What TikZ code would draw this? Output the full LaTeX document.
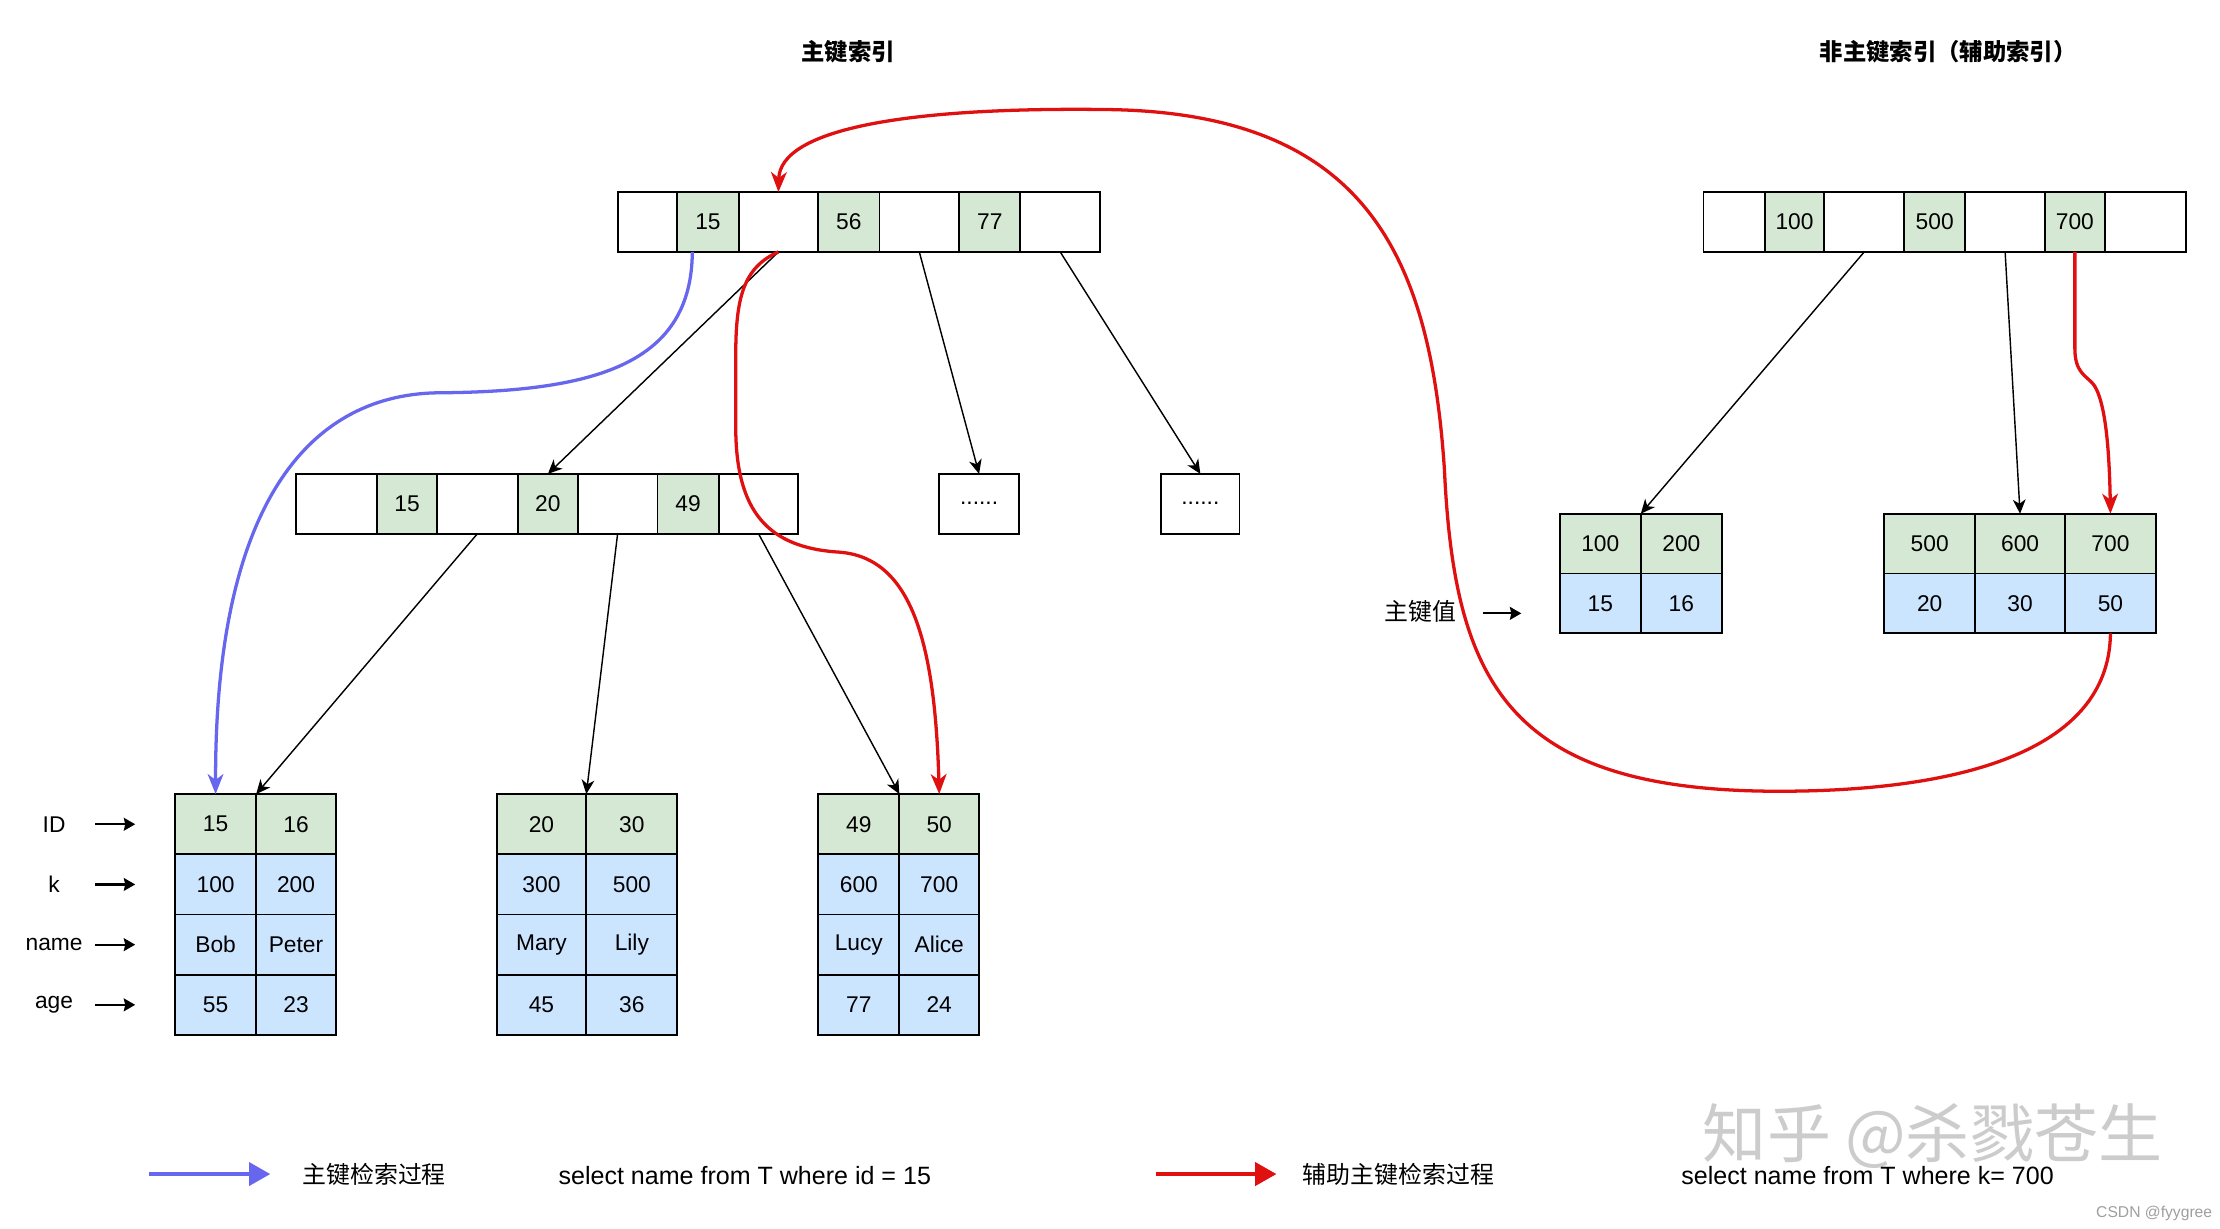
\documentclass[tikz,border=0pt]{standalone}
\usepackage{fontspec}
\setmainfont{Liberation Sans}
\newfontfamily\cjk{Noto Sans CJK SC}
\usetikzlibrary{arrows.meta,calc}
\definecolor{kgreen}{HTML}{D5E8D4}
\definecolor{kblue}{HTML}{CCE5FF}
\definecolor{rred}{HTML}{E01010}
\definecolor{bblue}{HTML}{6666EE}
\begin{document}
\begin{tikzpicture}[x=1pt,y=-1pt,
  cell/.style={draw, line width=1.3pt, minimum height=42pt, inner sep=0pt, outer sep=0pt, anchor=north west, font=\fontsize{16}{19}\selectfont},
  lcell/.style={cell, minimum height=42.3pt},
  gc/.style={fill=kgreen}, wc/.style={fill=white}, bc/.style={fill=kblue},
  tree/.style={line width=1pt, -{Stealth[length=10pt,width=9pt,inset=3pt]}},
  redarrow/.style={rred, line width=2.3pt, -{Stealth[length=14pt,width=11pt,inset=4pt]}},
  bluearrow/.style={bblue, line width=2.3pt, -{Stealth[length=14pt,width=11pt,inset=4pt]}},
  lab/.style={font=\fontsize{16}{19}\selectfont},
  labarrow/.style={line width=1.5pt, -{Stealth[length=8pt,width=9pt,inset=1pt]}},
  legend/.style={line width=3.2pt, -{Triangle[length=15pt,width=16pt]}},
  title/.style={font=\cjk\bfseries\fontsize{16.4}{20}\selectfont},
  cjktext/.style={font=\cjk\fontsize{16.8}{20}\selectfont},
  sql/.style={font=\fontsize{17.6}{21}\selectfont, anchor=west}
]
\useasboundingbox[fill=white] (0,0) rectangle (1560,863);

% watermark
\node[text=gray!40, font=\cjk\fontsize{45}{50}\selectfont] (wm) at (1358,798) {知乎 @杀戮苍生};
\node[anchor=east, text=gray!75, font=\fontsize{11}{13}\selectfont] (csdn) at (1558,853) {CSDN @fyygree};

% titles
\node[title] (t1) at (596,36) {主键索引};
\node[title] (t2) at (1369,36) {非主键索引（辅助索引）};

% primary index root
\node[cell,wc,minimum width=42pt] (P1) at (434,135) {};
\node[cell,gc,minimum width=43pt] (P2) at (476,135) {15};
\node[cell,wc,minimum width=56pt] (P3) at (519,135) {};
\node[cell,gc,minimum width=43pt] (P4) at (575,135) {56};
\node[cell,wc,minimum width=56pt] (P5) at (618,135) {};
\node[cell,gc,minimum width=43pt] (P6) at (674,135) {77};
\node[cell,wc,minimum width=56pt] (P7) at (717,135) {};

% secondary index root
\node[cell,wc,minimum width=43pt] (S1) at (1197,135) {};
\node[cell,gc,minimum width=42pt] (S2) at (1240,135) {100};
\node[cell,wc,minimum width=56pt] (S3) at (1282,135) {};
\node[cell,gc,minimum width=43pt] (S4) at (1338,135) {500};
\node[cell,wc,minimum width=56pt] (S5) at (1381,135) {};
\node[cell,gc,minimum width=42pt] (S6) at (1437,135) {700};
\node[cell,wc,minimum width=57pt] (S7) at (1479,135) {};

% middle node
\node[cell,wc,minimum width=57pt] (M1) at (208,333) {};
\node[cell,gc,minimum width=42pt] (M2) at (265,333) {15};
\node[cell,wc,minimum width=57pt] (M3) at (307,333) {};
\node[cell,gc,minimum width=42pt] (M4) at (364,333) {20};
\node[cell,wc,minimum width=56pt] (M5) at (406,333) {};
\node[cell,gc,minimum width=43pt] (M6) at (462,333) {49};
\node[cell,wc,minimum width=56pt] (M7) at (505,333) {};

\node[cell,wc,minimum width=56pt] (D1) at (660,333) {......};
\node[cell,wc,minimum width=55pt] (D2) at (816,333) {......};

% leaf A
\node[lcell,gc,minimum width=57pt] (A11) at (123,558) {15};
\node[lcell,gc,minimum width=56pt] (A12) at (180,558) {16};
\node[lcell,bc,minimum width=57pt] (A21) at (123,600.3) {100};
\node[lcell,bc,minimum width=56pt] (A22) at (180,600.3) {200};
\node[lcell,bc,minimum width=57pt] (A31) at (123,642.6) {Bob};
\node[lcell,bc,minimum width=56pt] (A32) at (180,642.6) {Peter};
\node[lcell,bc,minimum width=57pt] (A41) at (123,684.9) {55};
\node[lcell,bc,minimum width=56pt] (A42) at (180,684.9) {23};
% leaf B
\node[lcell,gc,minimum width=63pt] (B11) at (349,558) {20};
\node[lcell,gc,minimum width=64pt] (B12) at (412,558) {30};
\node[lcell,bc,minimum width=63pt] (B21) at (349,600.3) {300};
\node[lcell,bc,minimum width=64pt] (B22) at (412,600.3) {500};
\node[lcell,bc,minimum width=63pt] (B31) at (349,642.6) {Mary};
\node[lcell,bc,minimum width=64pt] (B32) at (412,642.6) {Lily};
\node[lcell,bc,minimum width=63pt] (B41) at (349,684.9) {45};
\node[lcell,bc,minimum width=64pt] (B42) at (412,684.9) {36};
% leaf C
\node[lcell,gc,minimum width=57pt] (C11) at (575,558) {49};
\node[lcell,gc,minimum width=56pt] (C12) at (632,558) {50};
\node[lcell,bc,minimum width=57pt] (C21) at (575,600.3) {600};
\node[lcell,bc,minimum width=56pt] (C22) at (632,600.3) {700};
\node[lcell,bc,minimum width=57pt] (C31) at (575,642.6) {Lucy};
\node[lcell,bc,minimum width=56pt] (C32) at (632,642.6) {Alice};
\node[lcell,bc,minimum width=57pt] (C41) at (575,684.9) {77};
\node[lcell,bc,minimum width=56pt] (C42) at (632,684.9) {24};

% secondary leaves
\node[cell,gc,minimum width=57pt] (Q11) at (1096,361) {100};
\node[cell,gc,minimum width=57pt] (Q12) at (1153,361) {200};
\node[cell,bc,minimum width=57pt] (Q21) at (1096,403) {15};
\node[cell,bc,minimum width=57pt] (Q22) at (1153,403) {16};
\node[cell,gc,minimum width=64pt] (R11) at (1324,361) {500};
\node[cell,gc,minimum width=63pt] (R12) at (1388,361) {600};
\node[cell,gc,minimum width=64pt] (R13) at (1451,361) {700};
\node[cell,bc,minimum width=64pt] (R21) at (1324,403) {20};
\node[cell,bc,minimum width=63pt] (R22) at (1388,403) {30};
\node[cell,bc,minimum width=64pt] (R23) at (1451,403) {50};

% row labels
\node[lab] (lID) at (38,579.2) {ID};
\node[lab] (lk) at (38,621.5) {k};
\node[lab] (lname) at (38,663.8) {name};
\node[lab] (lage) at (38,706.1) {age};
\coordinate (sID) at (67,579.2); \coordinate (eID) at (95,579.2);
\coordinate (sk) at (67,621.5); \coordinate (ek) at (95,621.5);
\coordinate (sname) at (67,663.8); \coordinate (ename) at (95,663.8);
\coordinate (sage) at (67,706.1); \coordinate (eage) at (95,706.1);
\draw[labarrow] (sID) -- (eID);
\draw[labarrow] (sk) -- (ek);
\draw[labarrow] (sname) -- (ename);
\draw[labarrow] (sage) -- (eage);

\node[lab, font=\cjk\fontsize{16.8}{20}\selectfont] (lpk) at (998,430) {主键值};
\coordinate (spk) at (1042,431); \coordinate (epk) at (1069,431);
\draw[labarrow] (spk) -- (epk);

% tree connectors
\draw[tree] (P3.south) -- (M4.north);
\draw[tree] (P5.south) -- (D1.north);
\draw[tree] (P7.south) -- (D2.north);
\draw[tree] (M3.south) -- (A11.north east);
\draw[tree] (M5.south) -- (B11.north east);
\draw[tree] (M7.south) -- (C11.north east);
\draw[tree] (S3.south) -- (Q11.north east);
\draw[tree] (S5.south) -- (R12.north);

% search paths
\draw[bluearrow] ([xshift=-11pt]P2.south) .. controls (486,255) and (420,275) .. (310,276)
  .. controls (220,276) and (151,350) .. (A11.north);
\draw[redarrow] (P3.south) .. controls (522,188) and (517,210) .. (517,250) -- (517,300)
  .. controls (517,360) and (540,385) .. (590,388)
  .. controls (640,392) and (657,450) .. (C12.north);
\draw[redarrow] (S6.south) -- (1458,245) .. controls (1458,262) and (1466,264) .. (1471,270)
  .. controls (1477,278) and (1482,300) .. (R13.north);
\draw[redarrow] (R23.south) .. controls (1482,545) and (1330,556) .. (1250,556)
  .. controls (1060,556) and (1022,480) .. (1015,330)
  .. controls (1005,180) and (960,80) .. (780,77)
  .. controls (640,75) and (548,90) .. (P3.north);

% legend
\coordinate (lb1) at (105,825); \coordinate (lb2) at (190,825);
\draw[legend, bblue] (lb1) -- (lb2);
\node[cjktext, anchor=west] (lbt) at (209,825) {主键检索过程};
\node[sql] (lbs) at (389,826) {select name from T where id = 15};
\coordinate (lr1) at (812,825); \coordinate (lr2) at (897,825);
\draw[legend, rred] (lr1) -- (lr2);
\node[cjktext, anchor=west] (lrt) at (912,825) {辅助主键检索过程};
\node[sql] (lrs) at (1178,826) {select name from T where k= 700};
\end{tikzpicture}
\end{document}
